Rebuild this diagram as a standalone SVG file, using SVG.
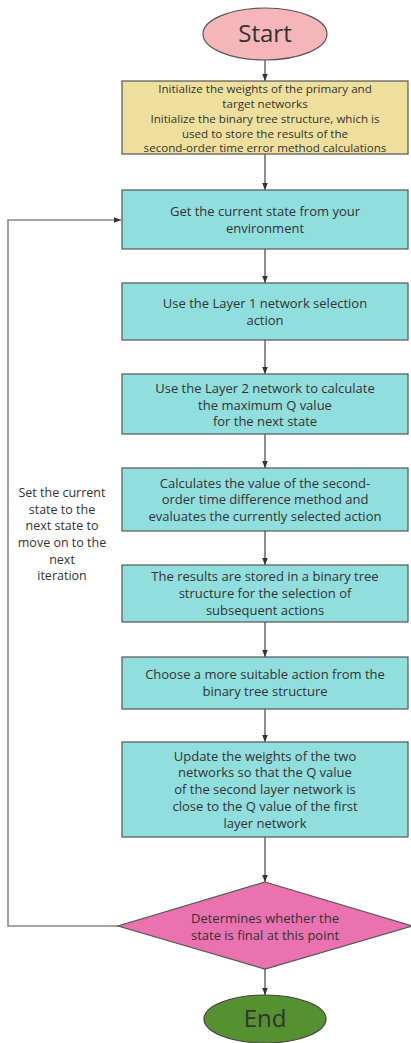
<svg xmlns="http://www.w3.org/2000/svg" width="411" height="1043" viewBox="0 0 411 1043">
<style>
.t{font-family:"Open Sans","Noto Sans",sans-serif;font-size:13px;fill:#333;text-anchor:middle}
.tl{font-family:"Open Sans","Noto Sans",sans-serif;font-size:12.5px;fill:#333;text-anchor:middle}
.ty{font-family:"Open Sans","Noto Sans",sans-serif;font-size:11.6px;fill:#333;text-anchor:middle}
.big{font-family:"Open Sans","Noto Sans",sans-serif;font-size:24px;fill:#333;text-anchor:middle}
.box{fill:#91DEDE;stroke:#555;stroke-width:1.2}
.c{stroke:#444;stroke-width:1.2;fill:none}
.loop{stroke:#888;stroke-width:1.6;fill:none}
</style>
<defs>
<marker id="ah" viewBox="0 0 10 10" refX="10" refY="5" markerWidth="7" markerHeight="7" orient="auto" markerUnits="userSpaceOnUse">
<path d="M0,1 L10,5 L0,9 Z" fill="#333"/>
</marker>
</defs>
<rect width="411" height="1043" fill="#fff"/>
<g id="connectors">
<line class="c" x1="265" y1="60" x2="265" y2="81" marker-end="url(#ah)"/>
<line class="c" x1="265" y1="154" x2="265" y2="190" marker-end="url(#ah)"/>
<line class="c" x1="265" y1="249" x2="265" y2="283" marker-end="url(#ah)"/>
<line class="c" x1="265" y1="340" x2="265" y2="374" marker-end="url(#ah)"/>
<line class="c" x1="265" y1="434" x2="265" y2="468" marker-end="url(#ah)"/>
<line class="c" x1="265" y1="531" x2="265" y2="565" marker-end="url(#ah)"/>
<line class="c" x1="265" y1="622" x2="265" y2="657" marker-end="url(#ah)"/>
<line class="c" x1="265" y1="709" x2="265" y2="742" marker-end="url(#ah)"/>
<line class="c" x1="265" y1="837" x2="265" y2="882" marker-end="url(#ah)"/>
<line class="c" x1="265" y1="969" x2="265" y2="995" marker-end="url(#ah)"/>
<polyline class="loop" points="118,926 8,926 8,220 121,220" marker-end="url(#ah)"/>
<g class="tl">
<text x="62" y="497">Set the current</text>
<text x="62" y="514">state to the</text>
<text x="62" y="530">next state to</text>
<text x="62" y="547">move on to the</text>
<text x="62" y="564">next</text>
<text x="62" y="580">iteration</text>
</g>
</g>
<g id="start">
<ellipse cx="265" cy="34" rx="62" ry="26" fill="#F4B6B8" stroke="#555" stroke-width="1.2"/>
<text class="big" x="265" y="42">Start</text>
</g>
<g id="init">
<rect x="122" y="81" width="286" height="73" fill="#EEE09C" stroke="#555" stroke-width="1.2"/>
<text class="ty" x="265" y="93">Initialize the weights of the primary and</text>
<text class="ty" x="265" y="108">target networks</text>
<text class="ty" x="265" y="123">Initialize the binary tree structure, which is</text>
<text class="ty" x="265" y="138">used to store the results of the</text>
<text class="ty" x="265" y="152">second-order time error method calculations</text>
</g>
<g id="getstate">
<rect class="box" x="122" y="190" width="286" height="59"/>
<text class="t" x="265" y="216">Get the current state from your</text>
<text class="t" x="265" y="233">environment</text>
</g>
<g id="layer1">
<rect class="box" x="122" y="283" width="286" height="57"/>
<text class="t" x="265" y="308">Use the Layer 1 network selection</text>
<text class="t" x="265" y="325">action</text>
</g>
<g id="layer2">
<rect class="box" x="122" y="374" width="286" height="60"/>
<text class="t" x="265" y="393">Use the Layer 2 network to calculate</text>
<text class="t" x="265" y="410">the maximum Q value</text>
<text class="t" x="265" y="426">for the next state</text>
</g>
<g id="calc">
<rect class="box" x="122" y="468" width="286" height="63"/>
<text class="t" x="265" y="488">Calculates the value of the second-</text>
<text class="t" x="265" y="504">order time difference method and</text>
<text class="t" x="265" y="521">evaluates the currently selected action</text>
</g>
<g id="store">
<rect class="box" x="122" y="565" width="286" height="57"/>
<text class="t" x="265" y="581">The results are stored in a binary tree</text>
<text class="t" x="265" y="598">structure for the selection of</text>
<text class="t" x="265" y="615">subsequent actions</text>
</g>
<g id="choose">
<rect class="box" x="122" y="657" width="286" height="52"/>
<text class="t" x="265" y="679">Choose a more suitable action from the</text>
<text class="t" x="265" y="696">binary tree structure</text>
</g>
<g id="update">
<rect class="box" x="122" y="742" width="286" height="95"/>
<text class="t" x="265" y="761">Update the weights of the two</text>
<text class="t" x="265" y="777">networks so that the Q value</text>
<text class="t" x="265" y="794">of the second layer network is</text>
<text class="t" x="265" y="811">close to the Q value of the first</text>
<text class="t" x="265" y="828">layer network</text>
</g>
<g id="decision">
<polygon points="265,882 412,926 265,969 118,926" fill="#EA72B0" stroke="#555" stroke-width="1.2"/>
<text class="t" x="265" y="923">Determines whether the</text>
<text class="t" x="265" y="940">state is final at this point</text>
</g>
<g id="end">
<ellipse cx="265" cy="1019" rx="61" ry="24" fill="#559130" stroke="#444" stroke-width="1.2"/>
<text class="big" x="265" y="1027">End</text>
</g>
</svg>
